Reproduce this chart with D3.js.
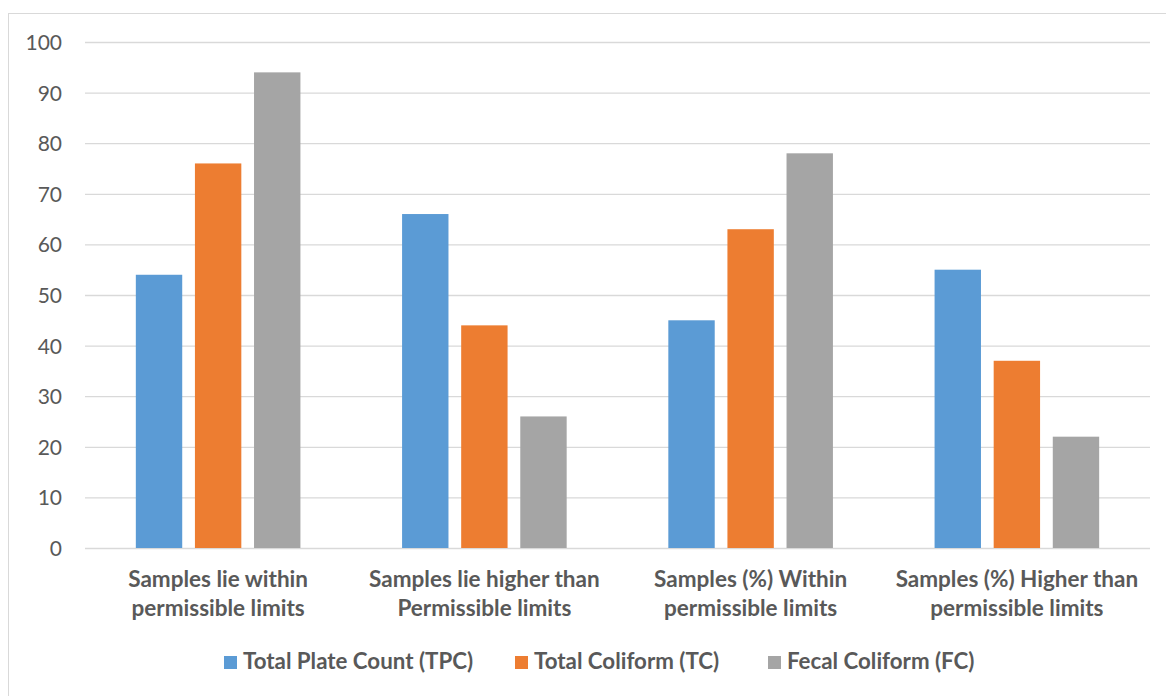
<!DOCTYPE html>
<html><head><meta charset="utf-8">
<script src="https://cdn.jsdelivr.net/npm/d3@7"></script>
<style>body{margin:0;background:#fff}svg{display:block}text{font-family:Lato,"Open Sans",sans-serif}</style>
</head><body>
<svg id="c" width="1166" height="696"></svg>
<script>
const categories = [
  ["Samples lie within", "permissible limits"],
  ["Samples lie higher than", "Permissible limits"],
  ["Samples (%) Within", "permissible limits"],
  ["Samples (%) Higher than", "permissible limits"]
];
const seriesNames = ["Total Plate Count (TPC)", "Total Coliform (TC)", "Fecal Coliform (FC)"];
const seriesColors = ["#5B9BD5", "#ED7D31", "#A5A5A5"];
const tpc = [54, 66, 45, 55];
const tc = [76, 44, 63, 37];
const fc = [94, 26, 78, 22];
const yTicks = [0, 10, 20, 30, 40, 50, 60, 70, 80, 90, 100];
const seriesValues = [tpc, tc, fc];

const svg = d3.select("#c");
svg.append("rect").attr("x", 8.5).attr("y", 13.5).attr("width", 1170).attr("height", 690)
  .attr("fill", "none").attr("stroke", "#D9D9D9").attr("stroke-width", 1);

const L = 85, R = 1150, T = 42, B = 548;
const x0 = d3.scaleBand().domain(d3.range(categories.length)).range([L, R]).padding(0);
const x1 = d3.scaleBand().domain(d3.range(seriesNames.length)).range([0, x0.bandwidth()])
  .paddingInner(0.215).paddingOuter(0.86);
const y = d3.scaleLinear().domain([0, 100]).range([B, T]);

const yAxis = d3.axisLeft(y).tickValues(yTicks).tickSize(-(R - L)).tickPadding(23);
const gy = svg.append("g").attr("transform", `translate(${L},0)`).call(yAxis);
gy.select(".domain").remove();
gy.selectAll(".tick line").attr("stroke", "#D9D9D9").attr("stroke-width", 1.3);
gy.selectAll(".tick text").attr("fill", "#595959").style("font-size", "21px").attr("dy", "0.36em");

const g = svg.append("g");
seriesValues.forEach((vals, s) => {
  g.selectAll(null).data(vals).join("rect")
    .attr("x", (d, i) => x0(i) + x1(s))
    .attr("y", d => y(d))
    .attr("width", x1.bandwidth())
    .attr("height", d => B - y(d))
    .attr("fill", seriesColors[s]);
});

const xl = svg.append("g");
categories.forEach((lines, i) => {
  const cx = x0(i) + x0.bandwidth() / 2;
  const t = xl.append("text").attr("text-anchor", "middle").attr("fill", "#595959")
    .style("font-size", "22.5px").style("font-weight", "bold");
  lines.forEach((ln, k) => t.append("tspan").attr("x", cx).attr("y", 587 + k * 29).text(ln));
});

const legX = [224, 515, 768];
const lg = svg.append("g");
seriesNames.forEach((n, s) => {
  lg.append("rect").attr("x", legX[s]).attr("y", 656).attr("width", 13).attr("height", 13).attr("fill", seriesColors[s]);
  lg.append("text").attr("x", legX[s] + 19).attr("y", 669).attr("fill", "#595959")
    .style("font-size", "22.3px").style("font-weight", "bold").text(n);
});
</script>
</body></html>
